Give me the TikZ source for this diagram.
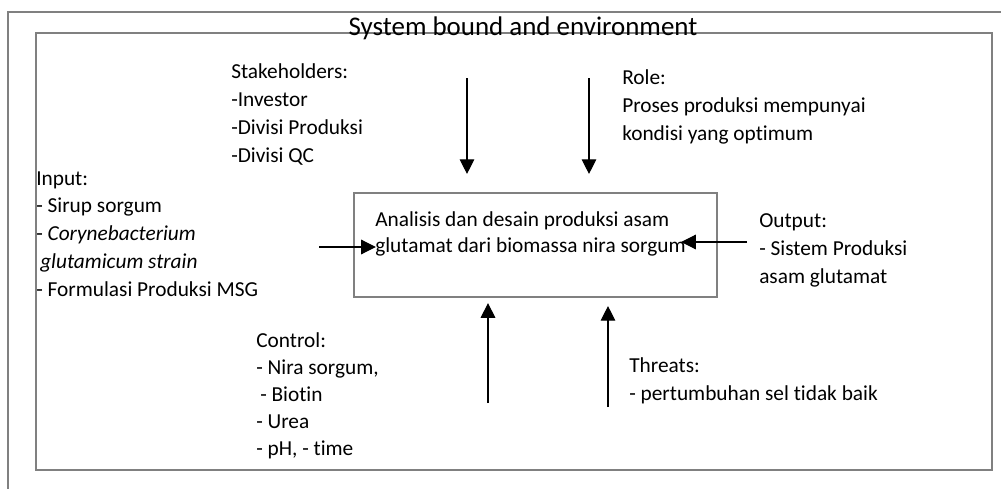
\documentclass[tikz,border=0pt]{standalone}
\usepackage{fontspec}
\setmainfont{Carlito}[Ligatures=NoCommon]
\usetikzlibrary{arrows.meta}
\definecolor{boxgray}{RGB}{128,128,128}
\tikzset{
  bound/.style={draw=boxgray, line width=1.6pt},
  txt/.style={anchor=base west, inner sep=0pt, align=left,
    font=\fontsize{16}{20.8}\selectfont},
  flow/.style={-{Triangle[length=11pt,width=11pt]}, line width=0.8pt}
}
\begin{document}
\begin{tikzpicture}[x=0.75pt,y=-0.75pt]
    \clip (0,0) rectangle (1001,489);
    % system bound
    \draw[bound] (8,12) rectangle (1030,520);
    \draw[bound] (36,33) rectangle (992,470);
    \node[anchor=base, inner sep=0pt, font=\fontsize{20.2}{24}\selectfont] (title) at (523,36) {System bound and environment};

    % the system itself
    \node[bound, minimum width=272pt, minimum height=78pt, inner sep=0pt] (sys) at (535.5,245) {};
    % (base of a multi-line node = its last line)
    \node[txt, font=\fontsize{16}{19}\selectfont] (systxt) at (375,252)
        {Analisis dan desain produksi asam\\glutamat dari biomassa nira sorgum};

    \node[txt] (stake) at (231,162) {Stakeholders:\\-Investor\\-Divisi Produksi\\-Divisi QC};
    \node[txt] (role) at (622,140) {Role:\\Proses produksi mempunyai\\kondisi yang optimum};
    \node[txt] (input) at (36,296)
        {Input:\\- Sirup sorgum\\- \textit{Corynebacterium}\\\hspace*{3pt}\textit{glutamicum strain}\\- Formulasi Produksi MSG};
    \node[txt] (output) at (759,283) {Output:\\- Sistem Produksi\\asam glutamat};
    \node[txt, font=\fontsize{16}{20.2}\selectfont] (control) at (256,455)
        {Control:\\- Nira sorgum,\\\hspace*{3pt}- Biotin\\- Urea\\- pH, - time};
    \node[txt] (threats) at (629,400) {Threats:\\- pertumbuhan sel tidak baik};

    % arrows
    \coordinate (stakeTail) at (467,78);
    \coordinate (roleTail) at (589,78);
    \coordinate (inTail) at (319,247);
    \coordinate (outTail) at (747,242);
    \coordinate (ctrlTail) at (488,403);
    \coordinate (thrTail) at (608,407);
    \draw[flow, shorten >=13.5pt] (stakeTail) -- (stakeTail |- sys.north);
    \draw[flow, shorten >=13.5pt] (roleTail) -- (roleTail |- sys.north);
    \draw[flow, shorten >=-17pt] (inTail) -- (inTail -| sys.west);
    \draw[flow, shorten >=-27.5pt] (outTail) -- (outTail -| sys.east);
    \draw[flow, shorten >=3.8pt] (ctrlTail) -- (ctrlTail |- sys.south);
    \draw[flow, shorten >=6pt] (thrTail) -- (thrTail |- sys.south);
\end{tikzpicture}
\end{document}
